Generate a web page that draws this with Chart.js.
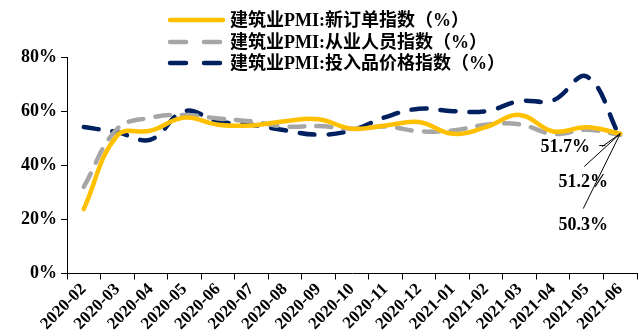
<!DOCTYPE html>
<html>
<head>
<meta charset="utf-8">
<script src="https://cdn.jsdelivr.net/npm/chart.js@4/dist/chart.umd.min.js"></script>
<style>
html,body{margin:0;padding:0;background:#fff;}
#wrap{width:642px;height:336px;position:relative;}
</style>
</head>
<body>
<div id="wrap"><canvas id="c" width="642" height="336"></canvas></div>
<script>
const categories = ["2020-02","2020-03","2020-04","2020-05","2020-06","2020-07","2020-08","2020-09","2020-10","2020-11","2020-12","2021-01","2021-02","2021-03","2021-04","2021-05","2021-06"];
const newOrders  = [23.8, 51.0, 52.8, 57.6, 55.0, 54.7, 56.3, 57.0, 53.5, 54.7, 56.0, 51.6, 54.1, 58.6, 52.5, 54.0, 51.7];
const employment = [32.0, 53.5, 57.6, 58.6, 57.3, 56.2, 54.3, 54.5, 53.5, 54.3, 52.6, 52.8, 55.0, 55.1, 51.6, 53.1, 51.2];
const inputPrice = [54.1, 52.2, 49.5, 60.0, 56.2, 55.0, 52.9, 51.3, 52.9, 57.8, 60.9, 60.0, 60.0, 63.7, 64.0, 72.8, 50.3];
const seriesNames = ["建筑业PMI:新订单指数（%）","建筑业PMI:从业人员指数（%）","建筑业PMI:投入品价格指数（%）"];
const endLabels = ["51.7%","51.2%","50.3%"];
const yTicks = [0, 20, 40, 60, 80];

const FONT = "'Times New Roman','Liberation Serif','Noto Sans CJK SC',serif";

const legendPlugin = {
  id: 'customLegend',
  afterDraw(chart) {
    const ctx = chart.ctx;
    const x0 = 168, x1 = 225, tx = 230;
    const rows = [20, 42, 63];
    ctx.save();
    chart.data.datasets.forEach((ds, i) => {
      const y = rows[i];
      ctx.beginPath();
      ctx.strokeStyle = ds.borderColor;
      ctx.lineWidth = 4.5;
      ctx.lineCap = 'round';
      ctx.setLineDash(ds.borderDash && ds.borderDash.length ? [16, 18] : []);
      ctx.moveTo(x0 + 2, y);
      ctx.lineTo(x1 - 2, y);
      ctx.stroke();
      ctx.setLineDash([]);
      ctx.fillStyle = '#000';
      ctx.font = "bold 18px " + FONT;
      ctx.textBaseline = 'middle';
      ctx.textAlign = 'left';
      ctx.fillText(ds.label, tx, y + 1);
    });
    ctx.restore();
  }
};

const endLabelPlugin = {
  id: 'endLabels',
  afterDraw(chart) {
    const meta = chart.getDatasetMeta(0);
    const last = meta.data[meta.data.length - 1];
    if (!last) return;
    const ex = last.x, ey = last.y;
    const ctx = chart.ctx;
    ctx.save();
    ctx.strokeStyle = '#000';
    ctx.lineWidth = 1;
    const leaders = [[-18, 13], [-36, 33], [-37, 75]];
    leaders.forEach(([dx, dy]) => {
      ctx.beginPath();
      ctx.moveTo(ex + dx, ey + dy);
      ctx.lineTo(ex, ey);
      ctx.stroke();
    });
    ctx.beginPath();
    ctx.moveTo(ex - 21, ey + 12);
    ctx.lineTo(ex - 15, ey + 12);
    ctx.stroke();
    ctx.fillStyle = '#000';
    ctx.font = "bold 18px " + FONT;
    ctx.textAlign = 'center';
    ctx.textBaseline = 'middle';
    const pos = [[-55, 14], [-37, 49], [-37, 92]];
    endLabels.forEach((t, i) => ctx.fillText(t, ex + pos[i][0], ey + pos[i][1]));
    ctx.restore();
  }
};

new Chart(document.getElementById('c'), {
  type: 'line',
  data: {
    labels: categories,
    datasets: [
      { label: seriesNames[0], data: newOrders, borderColor: '#FFC000', borderWidth: 4.5, borderCapStyle: 'round', tension: 0.4, pointRadius: 0, fill: false },
      { label: seriesNames[1], data: employment, borderColor: '#A6A6A6', borderWidth: 4.5, borderDash: [15, 12], borderCapStyle: 'round', tension: 0.4, pointRadius: 0, fill: false },
      { label: seriesNames[2], data: inputPrice, borderColor: '#002060', borderWidth: 4.5, borderDash: [15, 14], borderCapStyle: 'round', tension: 0.4, pointRadius: 0, fill: false }
    ]
  },
  options: {
    responsive: false,
    animation: false,
    layout: { padding: { top: 57, right: 5, left: 17, bottom: 2 } },
    plugins: {
      legend: { display: false },
      tooltip: { enabled: false }
    },
    scales: {
      x: {
        offset: true,
        grid: { display: true, drawOnChartArea: false, drawTicks: true, tickLength: 6, offset: true, color: '#000' },
        border: { display: true, color: '#000', width: 1 },
        ticks: { color: '#000', font: { family: FONT, size: 17, weight: 'bold' }, minRotation: 45, maxRotation: 45, autoSkip: false, padding: 0 }
      },
      y: {
        min: 0, max: 80,
        afterBuildTicks(axis) { axis.ticks = yTicks.map(v => ({ value: v })); },
        grid: { display: true, drawOnChartArea: false, drawTicks: true, tickLength: 6, color: '#000' },
        border: { display: true, color: '#000', width: 1 },
        ticks: { color: '#000', font: { family: FONT, size: 18, weight: 'bold' }, padding: 4, callback: v => v + '%' }
      }
    }
  },
  plugins: [legendPlugin, endLabelPlugin]
});
</script>
</body>
</html>
